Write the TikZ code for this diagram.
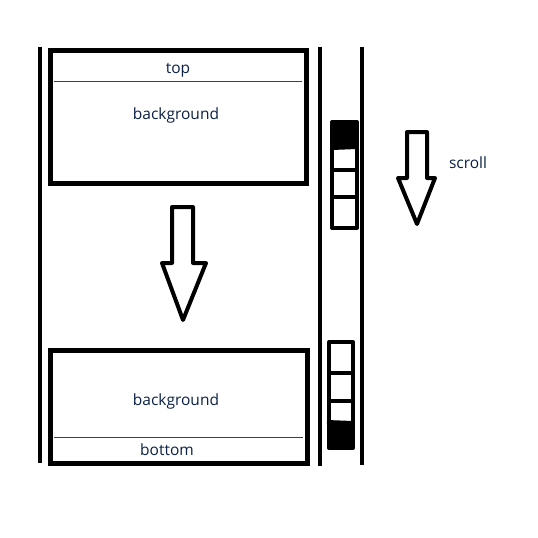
\documentclass[tikz,border=0pt]{standalone}
\usepackage{fontspec}
\setmainfont{Open Sans}
\definecolor{txt}{RGB}{12,32,70}
\begin{document}
\begin{tikzpicture}[x=1pt,y=-1pt,
  thickline/.style={line width=4pt},
  frame/.style={draw,line width=5pt,inner sep=0pt},
  divider/.style={draw=black!75,line width=0.8pt},
  lbl/.style={font=\fontsize{15.5}{17}\selectfont,text=txt,inner sep=0pt},
  bigarrow/.style={draw,line width=4pt,line join=round,fill=white},
  cell/.style={draw,line width=4pt,line join=round}]
\useasboundingbox (0,0) rectangle (538,538);
% rails
\draw[thickline] (40,47) -- (40,463);
\draw[thickline] (320,47) -- (320,466);
\draw[thickline] (362,47) -- (362,465);
% top frame
\node[frame,minimum width=256pt,minimum height=133pt] (topbox) at (178,116.5) {};
\draw[divider] (54,81) -- (302,81);
\node[lbl] (toplbl) at (178,70) {top};
\node[lbl] (bg1) at (176,115) {background};
% bottom frame
\node[frame,minimum width=257pt,minimum height=113pt] (botbox) at (178.5,406.5) {};
\draw[divider] (54,437) -- (303,437);
\node[lbl] (bg2) at (176,401) {background};
\node[lbl] (botlbl) at (167,450) {bottom};
% big arrow
\draw[bigarrow] (172,207) -- (193,207) -- (193,263) -- (206,263) -- (183,320) -- (162,263) -- (172,263) -- cycle;
% small arrow
\draw[bigarrow] (407,132) -- (427,132) -- (427,178) -- (435,178) -- (417,224) -- (398,178) -- (407,178) -- cycle;
\node[lbl] (scroll) at (468,163) {scroll};
% top scrollbar
\fill (332,122) rectangle (357,148);
\draw[cell] (332,122) rectangle (357,228);
\draw[cell] (332,148) -- (357,147);
\draw[cell] (332,170) -- (357,170);
\draw[cell] (332,197) -- (357,197);
% bottom scrollbar
\fill (327,423) rectangle (353,448);
\draw[cell] (329,342) rectangle (353,448);
\draw[cell] (329,373) -- (353,373);
\draw[cell] (329,401) -- (353,401);
\draw[cell] (327,422) -- (353,423);
\end{tikzpicture}
\end{document}
